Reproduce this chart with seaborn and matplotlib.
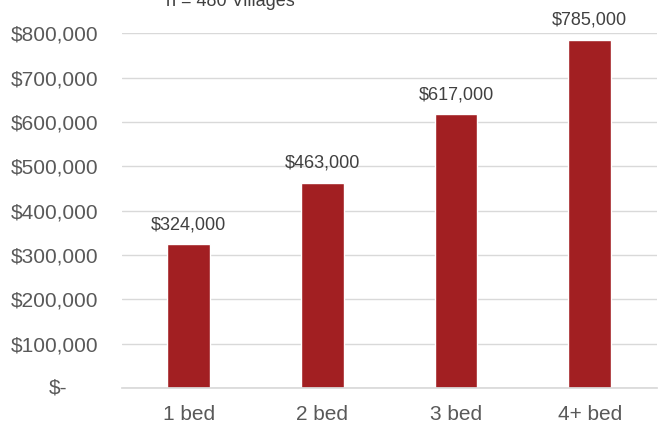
import matplotlib
matplotlib.use("Agg")
import matplotlib.pyplot as plt
import seaborn as sns
import pandas as pd
from matplotlib.ticker import FuncFormatter

# data
categories = ["1 bed", "2 bed", "3 bed", "4+ bed"]
prices = [324000, 463000, 617000, 785000]
subtitle = "n = 480 Villages"

df = pd.DataFrame({"beds": categories, "price": prices})

sns.set_theme(style="white")
plt.rcParams["font.family"] = ["Liberation Sans", "DejaVu Sans"]

fig = plt.figure(figsize=(6.58, 4.25), dpi=100)
ax = fig.add_axes([0.185, 0.087, 0.813, 0.835])

sns.barplot(data=df, x="beds", y="price", color="#A21F22", width=0.32,
            saturation=1, ax=ax)

ax.set_ylim(0, 800000)
ax.set_yticks(range(0, 800001, 100000))
# zero label drawn separately (accounting-style alignment)
ax.yaxis.set_major_formatter(
    FuncFormatter(lambda v, p: "" if v == 0 else f"${v:,.0f}"))
ax.set_xlim(-0.5, 3.5)
ax.set_xlabel("")
ax.set_ylabel("")
ax.grid(axis="y", color="#d9d9d9", linewidth=1)
ax.set_axisbelow(True)
for s in ["top", "right", "left"]:
    ax.spines[s].set_visible(False)
ax.spines["bottom"].set_color("#d9d9d9")
ax.tick_params(axis="both", length=0, labelsize=15, labelcolor="#595959")
ax.tick_params(axis="y", pad=17)
ax.tick_params(axis="x", pad=12)

ax.annotate("$-", (0, 0), xycoords=ax.get_yaxis_transform(),
            xytext=(-39, 0), textcoords="offset points",
            ha="right", va="center", fontsize=15, color="#595959")

for i, v in enumerate(prices):
    ax.annotate(f"${v:,.0f}", (i, v), xytext=(0, 8), textcoords="offset points",
                ha="center", va="bottom", fontsize=13, color="#404040")

fig.text(0.35, 0.997, subtitle, ha="center", va="center", fontsize=13,
         color="#404040")

fig.savefig("out.png", dpi=100)
